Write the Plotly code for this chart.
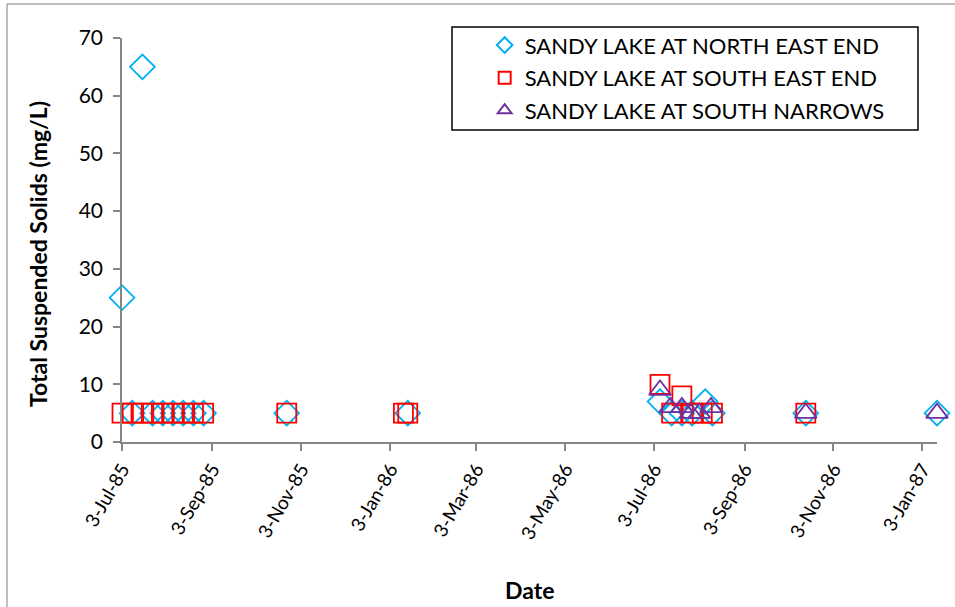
import plotly.graph_objects as go

# ---------------- data ----------------
ne_dates = ["1985-07-03", "1985-07-10", "1985-07-17", "1985-07-24", "1985-07-31",
            "1985-08-07", "1985-08-14", "1985-08-21", "1985-08-28", "1985-10-24",
            "1986-01-15", "1986-07-07", "1986-07-15", "1986-07-22", "1986-07-29",
            "1986-08-07", "1986-08-12", "1986-10-15", "1987-01-13"]
ne_values = [25, 5, 65, 5, 5, 5, 5, 5, 5, 5, 5, 7, 5, 5, 5, 7, 5, 5, 5]

se_dates = ["1985-07-03", "1985-07-10", "1985-07-17", "1985-07-24", "1985-07-31",
            "1985-08-07", "1985-08-14", "1985-08-21", "1985-08-28", "1985-10-24",
            "1986-01-12", "1986-01-15", "1986-07-07", "1986-07-15", "1986-07-22",
            "1986-07-29", "1986-08-05", "1986-08-12", "1986-10-15"]
se_values = [5, 5, 5, 5, 5, 5, 5, 5, 5, 5, 5, 5, 10, 5, 8, 5, 5, 5, 5]

sn_dates = ["1986-07-07", "1986-07-14", "1986-07-22", "1986-07-28", "1986-08-03",
            "1986-08-11", "1986-10-15", "1987-01-13"]
sn_values = [9, 6, 6, 5, 5, 6, 5, 5]

series_names = ["SANDY LAKE AT NORTH EAST END",
                "SANDY LAKE AT SOUTH EAST END",
                "SANDY LAKE AT SOUTH NARROWS"]

x_tick_vals = ["1985-07-03", "1985-09-03", "1985-11-03", "1986-01-03", "1986-03-03",
               "1986-05-03", "1986-07-03", "1986-09-03", "1986-11-03", "1987-01-03"]
x_tick_text = ["3-Jul-85", "3-Sep-85", "3-Nov-85", "3-Jan-86", "3-Mar-86",
               "3-May-86", "3-Jul-86", "3-Sep-86", "3-Nov-86", "3-Jan-87"]
y_tick_vals = [0, 10, 20, 30, 40, 50, 60, 70]

x_range = ["1985-07-03", "1987-01-13"]
y_range = [0, 70]

x_title = "Date"
y_title = "Total Suspended Solids (mg/L)"

# ---------------- figure ----------------
FONT = "Lato, 'Open Sans', sans-serif"
fig = go.Figure()

fig.add_trace(go.Scatter(
    x=ne_dates, y=ne_values, mode="markers", name=series_names[0], legendgroup="a",
    marker=dict(symbol="diamond-open", size=19, color="#00B0F0", line=dict(width=1.8, color="#00B0F0")),
    cliponaxis=False))
fig.add_trace(go.Scatter(
    x=se_dates, y=se_values, mode="markers", name=series_names[1], legendgroup="b",
    marker=dict(symbol="square-open", size=19, color="#FF0000", line=dict(width=1.8, color="#FF0000")),
    cliponaxis=False))
fig.add_trace(go.Scatter(
    x=sn_dates, y=sn_values, mode="markers", name=series_names[2], legendgroup="c",
    marker=dict(symbol="triangle-up-open", size=19, color="#7030A0", line=dict(width=1.8, color="#7030A0")),
    cliponaxis=False))

fig.update_layout(
    width=955, height=607,
    margin=dict(l=122, r=18, t=38, b=165, autoexpand=False),
    paper_bgcolor="white", plot_bgcolor="white",
    font=dict(family=FONT, size=20, color="black"),
    showlegend=True,
    legend=dict(
        x=0.445, y=1.034, xanchor="left", yanchor="top",
        bgcolor="rgba(0,0,0,0)", borderwidth=0,
        font=dict(family=FONT, size=22, color="black"),
        traceorder="grouped", tracegroupgap=1,
        itemsizing="constant",
    ),
    xaxis=dict(
        type="date", range=x_range, automargin=False,
        tickmode="array", tickvals=x_tick_vals, ticktext=x_tick_text,
        tickangle=-60, ticks="outside", ticklen=7, tickcolor="#868686", tickwidth=1.5,
        showline=True, linecolor="#868686", linewidth=1.5,
        showgrid=False, zeroline=False,
        tickfont=dict(family=FONT, size=19, color="black"),
    ),
    yaxis=dict(
        range=y_range, tickmode="array", tickvals=y_tick_vals, automargin=False,
        ticks="outside", ticklen=7, tickcolor="#868686", tickwidth=1.5,
        showline=True, linecolor="#868686", linewidth=1.5,
        showgrid=False, zeroline=False,
        ticklabelstandoff=6,
        tickfont=dict(family=FONT, size=21, color="black"),
    ),
    annotations=[
        dict(text="<b>" + y_title + "</b>", textangle=-90,
             xref="paper", yref="paper", x=(38 - 122) / 815, y=(442 - 254) / 404,
             xanchor="center", yanchor="middle", showarrow=False,
             font=dict(family=FONT, size=23, color="black")),
        dict(text="<b>" + x_title + "</b>",
             xref="paper", yref="paper", x=0.5, y=(442 - 590) / 404,
             xanchor="center", yanchor="middle", showarrow=False,
             font=dict(family=FONT, size=23, color="black")),
    ],
    shapes=[
        # legend box
        dict(type="rect", xref="paper", yref="paper",
             x0=(452 - 122) / 815, x1=(918 - 122) / 815,
             y0=(442 - 130) / 404, y1=(442 - 27) / 404,
             line=dict(color="black", width=1.5), fillcolor="rgba(0,0,0,0)", layer="below"),
        # chart border
        dict(type="rect", xref="paper", yref="paper",
             x0=(7 - 122) / 815, x1=(962 - 122) / 815,
             y0=(442 - 615) / 404, y1=(442 - 4) / 404,
             line=dict(color="#7f7f7f", width=1), fillcolor="rgba(0,0,0,0)", layer="below"),
    ],
)

fig.write_html("out.html", config={"displayModeBar": False},
               post_script="document.body.style.margin='0';")
